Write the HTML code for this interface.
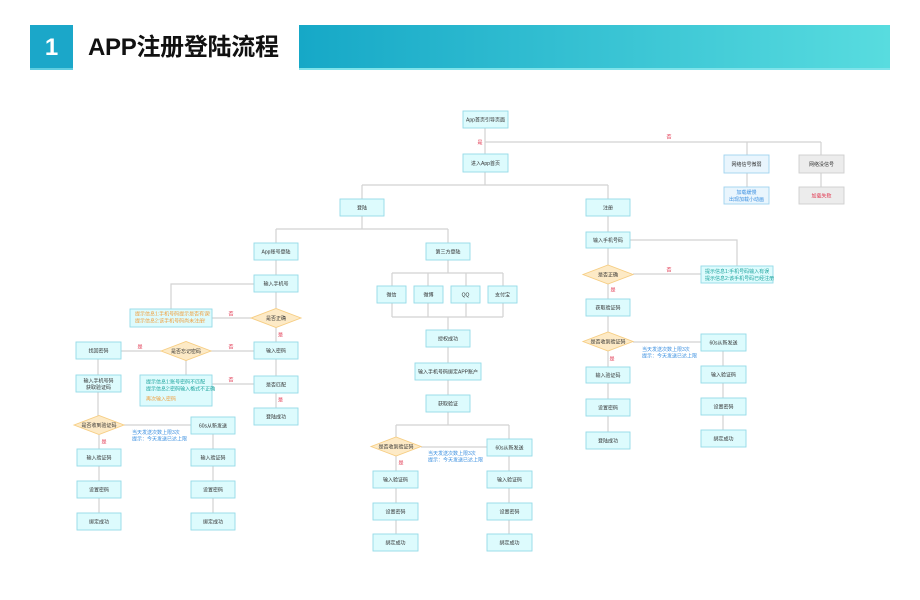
<!DOCTYPE html>
<html><head><meta charset="utf-8">
<style>
html,body{margin:0;padding:0;background:#fff;}
body{width:920px;height:600px;position:relative;overflow:hidden;font-family:"Liberation Sans","Noto Sans CJK SC",sans-serif;}
.num{position:absolute;left:30px;top:25px;width:43px;height:45px;background:#1ba7c9;color:#fff;font-weight:bold;font-size:24px;line-height:45px;text-align:center;box-shadow:inset 0 -2px 0 #5fcde0;}
.title{position:absolute;left:88px;top:30px;font-size:24px;font-weight:bold;color:#111;line-height:36px;letter-spacing:-0.3px;}
.bar{position:absolute;left:299px;top:25px;width:591px;height:45px;background:linear-gradient(90deg,#16a8c7,#58dcdf);box-shadow:inset 0 -2px 0 #7fe3ea;}
svg{position:absolute;left:0;top:0;}
</style></head><body>
<div class="num">1</div>
<div class="title">APP注册登陆流程</div>
<div class="bar"></div>
<svg width="920" height="600" viewBox="0 0 920 600" font-family="Liberation Sans, Noto Sans CJK SC, sans-serif">
<g stroke="#d2d2d2" stroke-width="1.2" fill="none">
<path d="M485 128V154M485 142H821M747 142V155M821 142V155M747 173V187M821 173V187"/>
<path d="M485 172V185M362 185H608M362 185V199M608 185V199"/>
<path d="M362 216V229M276 229H448M276 229V243M448 229V243"/>
<path d="M276 260V275M254 284H171V309M276 292V308M212 318H251M276 327V342M210 351H254M121 351H161M186 360V375M276 359V376M212 384H254M276 393V408"/>
<path d="M98 359V375M98 392V416M124 425H191M99 435V449M99 466V481M99 498V513M213 434V449M213 466V481M213 498V513"/>
<path d="M448 260V273M392 273H503M392 273V286M428 273V286M466 273V286M503 273V286"/>
<path d="M392 303V317M428 303V317M466 303V317M503 303V317M392 317H503M448 317V330"/>
<path d="M448 347V363M448 380V395M448 412V425M396 425H509M396 425V437M509 425V439M421 447H487"/>
<path d="M396 456V471M396 488V503M396 520V534M509 456V471M509 488V503M509 520V534"/>
<path d="M608 216V232M630 240H737V266M608 248V265M633 274H701M608 284V299M608 316V332M633 342H701"/>
<path d="M608 351V367M608 383V399M608 416V432M723 351V366M723 383V398M723 415V430"/>
</g>
<g fill="#ddfbfd" stroke="#94dae7" stroke-width="0.9">
<rect x="463" y="111" width="45" height="17"/>
<rect x="463" y="154" width="45" height="18"/>
<rect x="340" y="199" width="44" height="17"/>
<rect x="586" y="199" width="44" height="17"/>
<rect x="254" y="243" width="44" height="17"/>
<rect x="426" y="243" width="44" height="17"/>
<rect x="254" y="275" width="44" height="17"/>
<rect x="130" y="309" width="82" height="18"/>
<rect x="254" y="342" width="44" height="17"/>
<rect x="76" y="342" width="45" height="17"/>
<rect x="140" y="375" width="72" height="31"/>
<rect x="254" y="376" width="44" height="17"/>
<rect x="254" y="408" width="44" height="17"/>
<rect x="76" y="375" width="45" height="17"/>
<rect x="191" y="417" width="44" height="17"/>
<rect x="77" y="449" width="44" height="17"/>
<rect x="77" y="481" width="44" height="17"/>
<rect x="77" y="513" width="44" height="17"/>
<rect x="191" y="449" width="44" height="17"/>
<rect x="191" y="481" width="44" height="17"/>
<rect x="191" y="513" width="44" height="17"/>
<rect x="377" y="286" width="29" height="17"/>
<rect x="414" y="286" width="29" height="17"/>
<rect x="451" y="286" width="29" height="17"/>
<rect x="488" y="286" width="29" height="17"/>
<rect x="426" y="330" width="44" height="17"/>
<rect x="415" y="363" width="66" height="17"/>
<rect x="426" y="395" width="44" height="17"/>
<rect x="487" y="439" width="45" height="17"/>
<rect x="373" y="471" width="45" height="17"/>
<rect x="373" y="503" width="45" height="17"/>
<rect x="373" y="534" width="45" height="17"/>
<rect x="487" y="471" width="45" height="17"/>
<rect x="487" y="503" width="45" height="17"/>
<rect x="487" y="534" width="45" height="17"/>
<rect x="586" y="232" width="44" height="16"/>
<rect x="701" y="266" width="72" height="17"/>
<rect x="586" y="299" width="44" height="17"/>
<rect x="701" y="334" width="45" height="17"/>
<rect x="586" y="367" width="44" height="16"/>
<rect x="586" y="399" width="44" height="17"/>
<rect x="586" y="432" width="44" height="17"/>
<rect x="701" y="366" width="45" height="17"/>
<rect x="701" y="398" width="45" height="17"/>
<rect x="701" y="430" width="45" height="17"/>
</g>
<rect x="724" y="155" width="45" height="18" fill="#e9f5fd" stroke="#9fd3ef" stroke-width="0.9"/>
<rect x="724" y="187" width="45" height="17" fill="#e9f5fd" stroke="#9fd3ef" stroke-width="0.9"/>
<rect x="799" y="155" width="45" height="18" fill="#ececec" stroke="#cfcfcf" stroke-width="0.9"/>
<rect x="799" y="187" width="45" height="17" fill="#ececec" stroke="#cfcfcf" stroke-width="0.9"/>
<g fill="#fdeac6" stroke="#f6cd82" stroke-width="0.9">
<polygon points="251,318 276,308.5 301,318 276,327.5"/>
<polygon points="161,351 186,341.5 211,351 186,360.5"/>
<polygon points="74,425 99,415.5 124,425 99,434.5"/>
<polygon points="371,446.5 396,437 421,446.5 396,456"/>
<polygon points="583,274.5 608,265 633,274.5 608,284"/>
<polygon points="583,341.5 608,332 633,341.5 608,351"/>
</g>
<g font-size="5" fill="#333" text-anchor="middle">
<text x="485.5" y="121.3">App首页引导页面</text>
<text x="485.5" y="164.8">进入App首页</text>
<text x="362" y="209.3">登陆</text>
<text x="608" y="209.3">注册</text>
<text x="276" y="253.3">App账号登陆</text>
<text x="448" y="253.3">第三方登陆</text>
<text x="276" y="285.3">输入手机号</text>
<text x="276" y="320">是否正确</text>
<text x="276" y="352.3">输入密码</text>
<text x="98.5" y="352.3">找回密码</text>
<text x="186" y="353">是否忘记密码</text>
<text x="276" y="386.3">是否匹配</text>
<text x="276" y="418.3">登陆成功</text>
<text x="98.5" y="382.3">输入手机号码</text>
<text x="98.5" y="389">获取验证码</text>
<text x="99" y="427">是否收到验证码</text>
<text x="213" y="427.3">60s从新发送</text>
<text x="99" y="459.3">输入验证码</text>
<text x="99" y="491.3">设置密码</text>
<text x="99" y="523.3">绑定成功</text>
<text x="213" y="459.3">输入验证码</text>
<text x="213" y="491.3">设置密码</text>
<text x="213" y="523.3">绑定成功</text>
<text x="391.5" y="296.3">微信</text>
<text x="428.5" y="296.3">微博</text>
<text x="465.5" y="296.3">QQ</text>
<text x="502.5" y="296.3">支付宝</text>
<text x="448" y="340.3">授权成功</text>
<text x="448" y="373.3">输入手机号码绑定APP账户</text>
<text x="448" y="405.3">获取验证</text>
<text x="396" y="448.3">是否收到验证码</text>
<text x="509.5" y="449.3">60s从新发送</text>
<text x="395.5" y="481.3">输入验证码</text>
<text x="395.5" y="513.3">设置密码</text>
<text x="395.5" y="544.3">绑定成功</text>
<text x="509.5" y="481.3">输入验证码</text>
<text x="509.5" y="513.3">设置密码</text>
<text x="509.5" y="544.3">绑定成功</text>
<text x="608" y="241.8">输入手机号码</text>
<text x="608" y="276.3">是否正确</text>
<text x="608" y="309.3">获取验证码</text>
<text x="608" y="343.3">是否收到验证码</text>
<text x="723.5" y="344.3">60s从新发送</text>
<text x="608" y="376.8">输入验证码</text>
<text x="608" y="409.3">设置密码</text>
<text x="608" y="442.3">登陆成功</text>
<text x="723.5" y="376.3">输入验证码</text>
<text x="723.5" y="408.3">设置密码</text>
<text x="723.5" y="440.3">绑定成功</text>
<text x="746.5" y="165.8">网络信号微弱</text>
<text x="821.5" y="165.8">网络没信号</text>
<text x="746.5" y="194" fill="#3a8fe0">加载缓慢</text>
<text x="746.5" y="201" fill="#3a8fe0">出现加载小动画</text>
<text x="821.5" y="197.3" fill="#e0304a">加载失败</text>
</g>
<g font-size="5">
<text x="135" y="315.5" fill="#f0a040">提示信息1:手机号码提示是否有误!</text>
<text x="135" y="322.5" fill="#f0a040">提示信息2:该手机号码尚未注册!</text>
<text x="146" y="383.5" fill="#1fa59f">提示信息1:账号密码不匹配</text>
<text x="146" y="390.5" fill="#1fa59f">提示信息2:密码输入格式不正确</text>
<text x="146" y="400.5" fill="#f0a040">再次输入密码</text>
<text x="705" y="273" fill="#1fa59f">提示信息1:手机号码输入有误</text>
<text x="705" y="280" fill="#1fa59f">提示信息2:该手机号码已经注册</text>
<g fill="#3a8fe0">
<text x="132" y="434">当天发送次数上限3次</text>
<text x="132" y="440.5">提示：今天发送已达上限</text>
<text x="428" y="455">当天发送次数上限3次</text>
<text x="428" y="461.5">提示：今天发送已达上限</text>
<text x="642" y="351">当天发送次数上限3次</text>
<text x="642" y="357.5">提示：今天发送已达上限</text>
</g>
<g fill="#e0304a" text-anchor="middle">
<text x="480" y="143.8">是</text>
<text x="669" y="138.5">否</text>
<text x="231" y="315.5">否</text>
<text x="280.5" y="336.5">是</text>
<text x="231" y="348.5">否</text>
<text x="140" y="348.5">是</text>
<text x="231" y="381.5">否</text>
<text x="280.5" y="401.5">是</text>
<text x="104" y="443.5">是</text>
<text x="401" y="464.5">是</text>
<text x="669" y="271.5">否</text>
<text x="613" y="291.5">是</text>
<text x="612" y="360.5">是</text>
</g>
</g>
</svg>
</body></html>
